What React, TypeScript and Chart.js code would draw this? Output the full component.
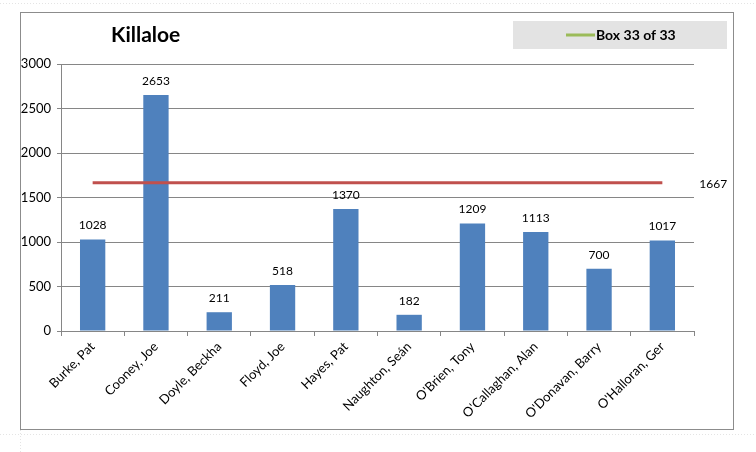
import React, { useEffect, useRef } from "react";
import { Chart, registerables } from "chart.js";

Chart.register(...registerables);

const categories = [
  "Burke, Pat",
  "Cooney, Joe",
  "Doyle, Beckha",
  "Floyd, Joe",
  "Hayes, Pat",
  "Naughton, Seán",
  "O'Brien, Tony",
  "O'Callaghan, Alan",
  "O'Donavan, Barry",
  "O'Halloran, Ger",
];
const votes = [1028, 2653, 211, 518, 1370, 182, 1209, 1113, 700, 1017];
const quota = 1667;
const quotaLine = categories.map(() => quota);
const titleText = "Killaloe";
const legendText = "Box 33 of 33";
const yTicks = [0, 500, 1000, 1500, 2000, 2500, 3000];

const FONT = "Lato, 'Open Sans', sans-serif";

const decorPlugin = {
  id: "decor",
  beforeDraw(chart: any) {
    const ctx = chart.ctx;
    ctx.save();
    ctx.fillStyle = "#ffffff";
    ctx.fillRect(0, 0, chart.width, chart.height);
    // faint sheet cell lines
    ctx.strokeStyle = "#e4e4e4";
    ctx.setLineDash([1, 2]);
    ctx.lineWidth = 1;
    ctx.beginPath();
    ctx.moveTo(0, 3.5);
    ctx.lineTo(chart.width, 3.5);
    ctx.moveTo(0, 434.5);
    ctx.lineTo(chart.width, 434.5);
    ctx.moveTo(20.5, 430);
    ctx.lineTo(20.5, chart.height);
    ctx.stroke();
    ctx.setLineDash([]);
    // outer border
    ctx.strokeStyle = "#8c8c8c";
    ctx.lineWidth = 1;
    ctx.strokeRect(20.5, 12.5, 713, 417);
    // title
    ctx.fillStyle = "#000";
    ctx.font = `bold 21px ${FONT}`;
    ctx.textBaseline = "middle";
    ctx.textAlign = "left";
    ctx.fillText(titleText, 111, 35);
    // legend box
    ctx.fillStyle = "#e3e3e3";
    ctx.fillRect(513, 21, 214, 28);
    ctx.strokeStyle = "#9BBB59";
    ctx.lineWidth = 3;
    ctx.beginPath();
    ctx.moveTo(566, 35);
    ctx.lineTo(595, 35);
    ctx.stroke();
    ctx.fillStyle = "#000";
    ctx.font = `bold 14px ${FONT}`;
    ctx.fillText(legendText, 596, 35);
    ctx.restore();
  },
  afterDatasetsDraw(chart: any) {
    const ctx = chart.ctx;
    ctx.save();
    ctx.fillStyle = "#000";
    ctx.font = `12px ${FONT}`;
    ctx.textAlign = "center";
    ctx.textBaseline = "bottom";
    const meta = chart.getDatasetMeta(0);
    meta.data.forEach((bar: any, i: number) => {
      ctx.fillText(String(votes[i]), bar.x, bar.y - 8);
    });
    const lmeta = chart.getDatasetMeta(1);
    const last = lmeta.data[lmeta.data.length - 1];
    ctx.textAlign = "left";
    ctx.textBaseline = "middle";
    ctx.fillText(String(quota), last.x + 37, last.y + 1);
    ctx.restore();
  },
};

export default function App() {
  const ref = useRef<HTMLCanvasElement>(null);
  useEffect(() => {
    if (!ref.current) return;
    const chart = new Chart(ref.current, {
      type: "bar",
      data: {
        labels: categories,
        datasets: [
          {
            type: "bar",
            data: votes,
            backgroundColor: "#4F81BD",
            borderWidth: 0,
            barPercentage: 0.4,
            categoryPercentage: 1,
            order: 2,
          },
          {
            type: "line",
            data: quotaLine,
            borderColor: "#C0504D",
            borderWidth: 3,
            pointRadius: 0,
            fill: false,
            order: 1,
          } as any,
        ],
      },
      options: {
        animation: false,
        responsive: false,
        maintainAspectRatio: false,
        layout: { padding: { left: 20, top: 64, right: 62, bottom: 0 } },
        plugins: {
          legend: { display: false },
          title: { display: false },
          tooltip: { enabled: false },
        },
        scales: {
          x: {
            offset: true,
            grid: {
              offset: true,
              drawOnChartArea: false,
              drawTicks: true,
              tickLength: 5,
              color: "#868686",
            },
            border: { color: "#868686", width: 1 },
            ticks: {
              color: "#000",
              font: { family: FONT, size: 13 },
              minRotation: 45,
              maxRotation: 45,
              autoSkip: false,
              padding: 3,
            },
            afterFit(scale: any) {
              scale.height = 121;
            },
          },
          y: {
            min: 0,
            max: 3000,
            afterBuildTicks(scale: any) {
              scale.ticks = yTicks.map((v) => ({ value: v }));
            },
            grid: {
              color: "#868686",
              lineWidth: 1,
              tickLength: 4,
            },
            border: { color: "#868686", width: 1 },
            ticks: {
              color: "#000",
              font: { family: FONT, size: 13 },
              padding: 6,
              callback: (v: any) => String(v),
            },
            afterFit(scale: any) {
              scale.width = 41;
            },
          },
        },
      },
      plugins: [decorPlugin],
    });
    return () => chart.destroy();
  }, []);
  return (
    <div style={{ position: "fixed", left: 0, top: 0, width: 756, height: 452 }}>
      <canvas ref={ref} width={756} height={452} style={{ width: 756, height: 452 }} />
    </div>
  );
}
